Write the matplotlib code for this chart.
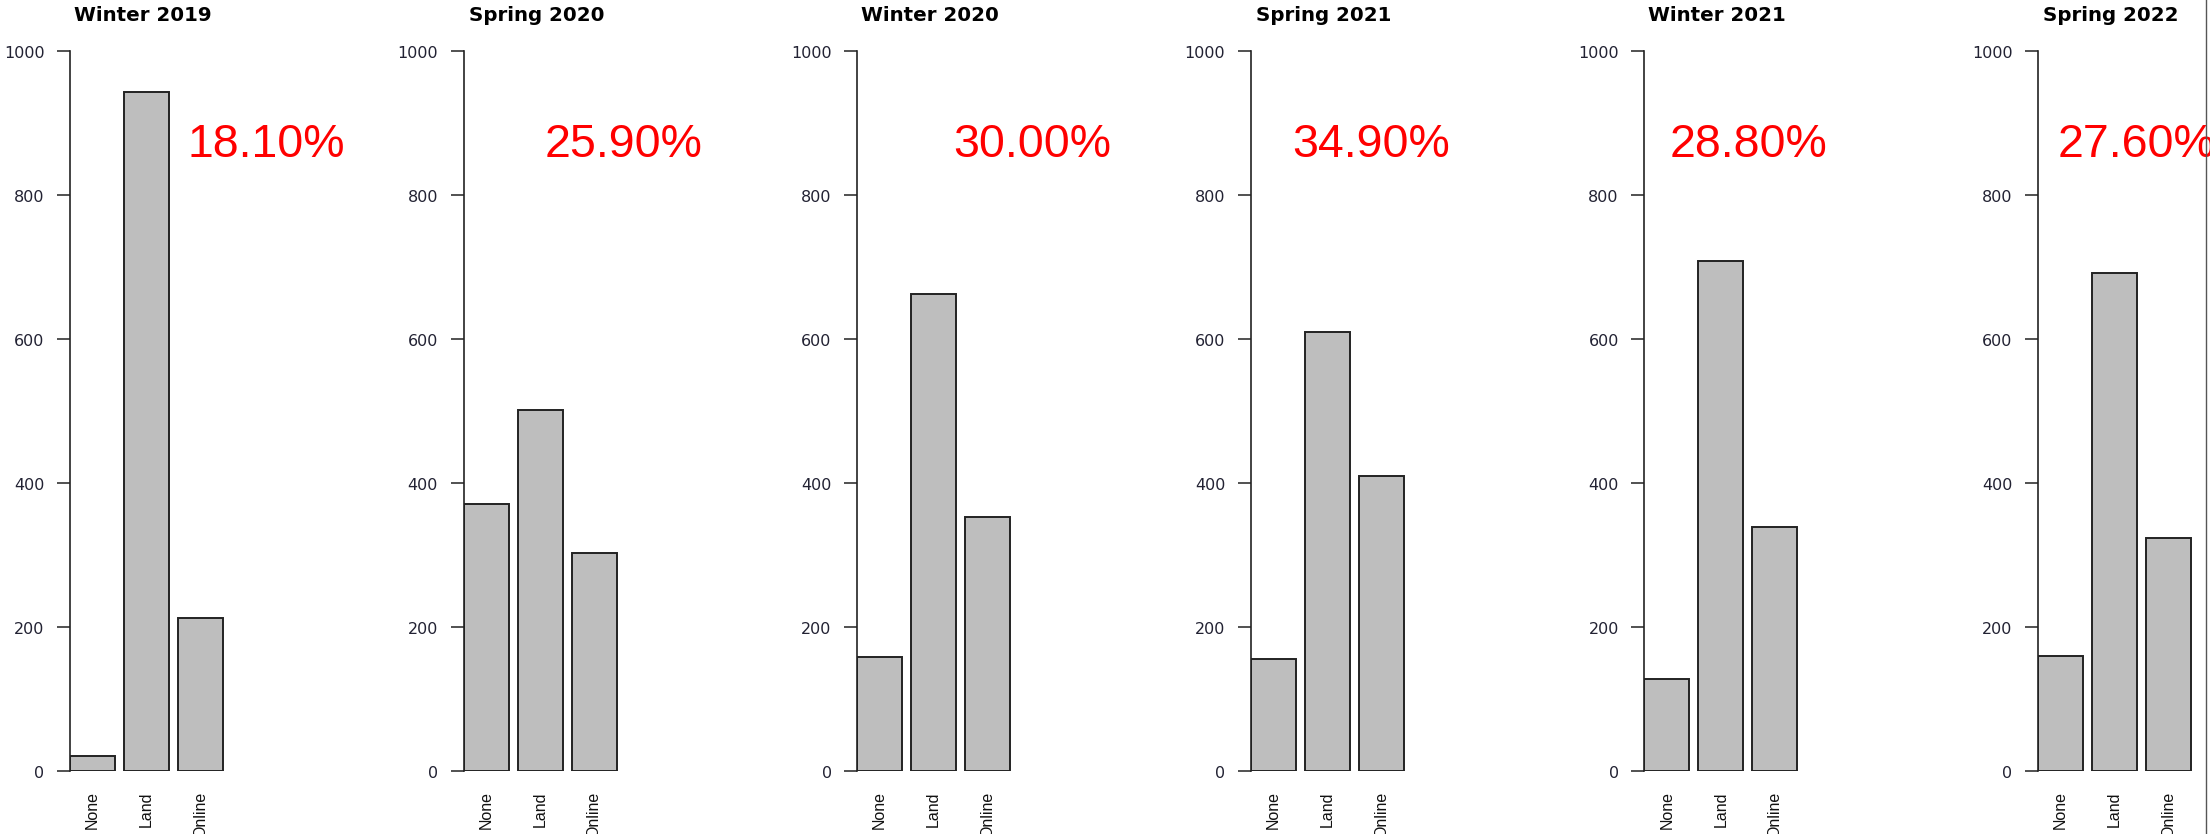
import matplotlib
matplotlib.use("Agg")
import matplotlib.pyplot as plt
from matplotlib import font_manager

# data
titles = ["Winter 2019", "Spring 2020", "Winter 2020", "Spring 2021", "Winter 2021", "Spring 2022"]
categories = ["None", "Land", "Online"]
none_vals = [21, 371, 158, 155, 128, 160]
land_vals = [942, 501, 662, 610, 708, 692]
online_vals = [213, 302, 353, 410, 339, 324]
pct_labels = ["18.10%", "25.90%", "30.00%", "34.90%", "28.80%", "27.60%"]

# where the red label starts in each panel (bar units)
pct_x = [2.82, 2.01, 2.34, 1.13, 0.75, 0.64]

names = [f.name for f in font_manager.fontManager.ttflist]
if "Liberation Sans Narrow" in names:
    narrow, narrow_size = "Liberation Sans Narrow", 13
else:
    narrow, narrow_size = "Liberation Sans", 11.5

W, H = 2210, 835
fig = plt.figure(figsize=(W / 100, (H - 0.1) / 100), dpi=100)

px_per_unit = 45.0
x0 = 70.0
step = 393.6
y_zero = 772.0
y_top = 51.6
centers = [0.7, 1.9, 3.1]
xmin, xmax = 0.2, 3.736

for i in range(6):
    left = x0 + step * i
    ax = fig.add_axes([left / W, (H - y_zero) / H,
                       (xmax - xmin) * px_per_unit / W, (y_zero - y_top) / H])
    vals = [none_vals[i], land_vals[i], online_vals[i]]
    ax.bar(centers, vals, width=1.0, color="#bebebe", edgecolor="#222222", linewidth=1.4)
    ax.set_xlim(xmin, xmax)
    ax.set_ylim(0, 1000)
    for s in ["top", "right", "bottom"]:
        ax.spines[s].set_visible(False)
    ax.spines["left"].set_bounds(0, 1000)
    ax.spines["left"].set_linewidth(1.2)
    ax.spines["left"].set_color("#222222")
    ax.set_yticks([0, 200, 400, 600, 800, 1000])
    ax.tick_params(axis="y", length=9.4, width=1.1, color="#222222", pad=9,
                   labelsize=11.5, labelcolor="#222233")
    ax.set_xticks(centers)
    ax.set_xticklabels(categories, rotation=90, fontsize=narrow_size, family=narrow, color="#111111")
    ax.tick_params(axis="x", length=0, pad=14)
    ax.text(1.82, 1042, titles[i], ha="center", va="baseline", fontsize=14.3,
            fontweight="bold", family="DejaVu Sans", clip_on=False)
    ax.text(pct_x[i], 854, pct_labels[i], ha="left", va="baseline", fontsize=33.5,
            color="#ff0000", family="Liberation Sans", clip_on=False)
    ax.patch.set_alpha(0)

# thin frame line at right edge of the screenshot
fig.add_artist(plt.Line2D([2206 / W, 2206 / W], [0, 1], color="#555555", linewidth=1.0))

fig.savefig("out.png", dpi=100)
